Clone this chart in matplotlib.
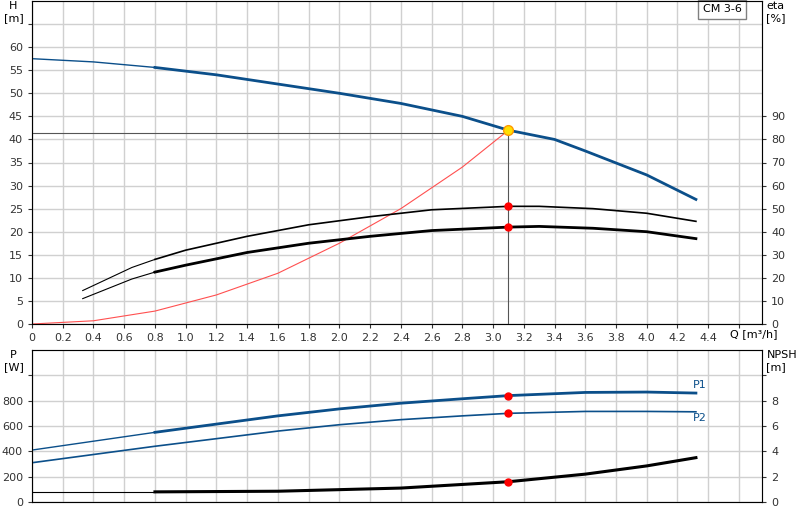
import matplotlib
matplotlib.use("Agg")
import matplotlib.pyplot as plt
import numpy as np

q_h = [0, 0.4, 0.8, 1.2, 1.6, 2.0, 2.4, 2.8, 3.1, 3.4, 3.6, 4.0, 4.32]
h = [57.5, 56.8, 55.6, 54.0, 52.0, 50.0, 47.8, 45.0, 42.0, 40.0, 37.5, 32.3, 27.0]
q_e = [0.33, 0.65, 0.8, 1.0, 1.4, 1.8, 2.2, 2.6, 3.1, 3.3, 3.65, 4.0, 4.32]
eta1 = [14.5, 24.5, 28.0, 32.0, 38.0, 43.0, 46.5, 49.5, 51.0, 51.0, 50.0, 48.0, 44.5]
eta2 = [11.0, 19.5, 22.5, 25.5, 31.0, 35.0, 38.0, 40.5, 42.0, 42.3, 41.5, 40.0, 37.0]
q_s = [0, 0.4, 0.8, 1.2, 1.6, 2.0, 2.4, 2.8, 3.1]
h_sys = [0, 0.7, 2.8, 6.3, 11.0, 17.5, 25.0, 34.0, 42.0]
q_p = [0, 0.4, 0.8, 1.2, 1.6, 2.0, 2.4, 2.8, 3.1, 3.6, 4.0, 4.32]
p1 = [410, 480, 550, 615, 680, 735, 780, 815, 840, 865, 868, 860]
p2 = [310, 375, 440, 500, 560, 610, 650, 680, 700, 715, 715, 712]
q_n = [0, 0.8, 1.6, 2.4, 3.1, 3.6, 4.0, 4.32]
npsh = [0.8, 0.8, 0.85, 1.1, 1.6, 2.2, 2.85, 3.5]
q_op, h_op = 3.1, 42.0

BLUE = '#0b4f8a'
GRID = '#d0d0d0'
fig = plt.figure(figsize=(8, 5.2), dpi=100)
ax = fig.add_axes([32/800, 1-324/520, 730/800, 323/520])
bx = fig.add_axes([32/800, 1-502/520, 730/800, 152/520])

def thickseg(a, x, y, split, lw1, lw2, c):
    x = np.array(x); y = np.array(y)
    m1 = x <= split; m2 = x >= split
    a.plot(x[m1], y[m1], color=c, lw=lw1)
    a.plot(x[m2], y[m2], color=c, lw=lw2)

xt = np.round(np.arange(0, 4.61, 0.2), 1)
for a in (ax, bx):
    a.set_xlim(0, 4.75)
    a.set_xticks(xt)
    a.grid(True, color=GRID, lw=1)
    a.set_axisbelow(True)
    for s in a.spines.values():
        s.set_color('#808080')
    a.tick_params(labelsize=8, length=3, colors='#333333')

ax.set_ylim(0, 70)
ax.set_yticks(np.arange(0, 66, 5))
ax.set_yticklabels([str(v) if v <= 60 else '' for v in range(0, 66, 5)])
ax.set_xticklabels(['0'] + [f'{v:.1f}' for v in xt[1:-1]] + [''])
ax.text(4.54, -1.2, 'Q [m³/h]', fontsize=8, va='top', ha='left')
ax.text(-0.12, 70, 'H\n[m]', fontsize=8, ha='center', va='top')
e = ax.twinx()
e.set_ylim(0, 140)
e.set_yticks(np.arange(0, 91, 10))
e.tick_params(labelsize=8, length=3, colors='#333333')
e.text(1.006, 1.0, 'eta\n[%]', transform=ax.transAxes, fontsize=8, va='top')

thickseg(ax, q_h, h, 0.8, 1.0, 2.0, BLUE)
thickseg(e, q_e, eta1, 0.8, 0.8, 1.2, 'black')
thickseg(e, q_e, eta2, 0.8, 0.8, 2.0, 'black')
ax.plot(q_s, h_sys, color='#ff5050', lw=0.8)
ax.plot([0, q_op], [41.5, 41.5], color='#555555', lw=0.8)
ax.plot([q_op, q_op], [0, 41.5], color='#555555', lw=0.8)
ax.plot(q_op, h_op, 'o', ms=7, mfc='#ffe000', mec='#ff9900', zorder=5)
e.plot([q_op, q_op], [eta1[8], eta2[8]], 'o', color='red', ms=5, zorder=5)
ax.text(0.972, 0.99, 'CM 3-6', transform=ax.transAxes, fontsize=8, ha='right', va='top',
        bbox=dict(boxstyle='square,pad=0.4', fc='white', ec='#808080'))

bx.set_ylim(0, 1200)
bx.set_yticks(np.arange(0, 1001, 200))
bx.set_yticklabels(['0', '200', '400', '600', '800', ''])
bx.set_xticklabels([])
bx.tick_params(axis='x', length=0)
bx.text(-0.12, 1200, 'P\n[W]', fontsize=8, ha='center', va='top')
n = bx.twinx()
n.set_ylim(0, 12)
n.set_yticks(np.arange(0, 11, 2))
n.set_yticklabels(['0', '2', '4', '6', '8', ''])
n.tick_params(labelsize=8, length=3, colors='#333333')
n.text(1.006, 1.0, 'NPSH\n[m]', transform=bx.transAxes, fontsize=8, va='top')
thickseg(bx, q_p, p1, 0.8, 1.0, 2.0, BLUE)
bx.plot(q_p, p2, color=BLUE, lw=1.2)
thickseg(n, q_n, npsh, 0.8, 0.8, 2.2, 'black')
bx.plot([q_op, q_op], [p1[8], p2[8]], 'o', color='red', ms=5, zorder=5)
n.plot(q_op, npsh[4], 'o', color='red', ms=5, zorder=5)
bx.text(4.3, 885, 'P1', color=BLUE, fontsize=8, ha='left', va='bottom')
bx.text(4.3, 700, 'P2', color=BLUE, fontsize=8, ha='left', va='top')

fig.savefig('out.png', dpi=100)
